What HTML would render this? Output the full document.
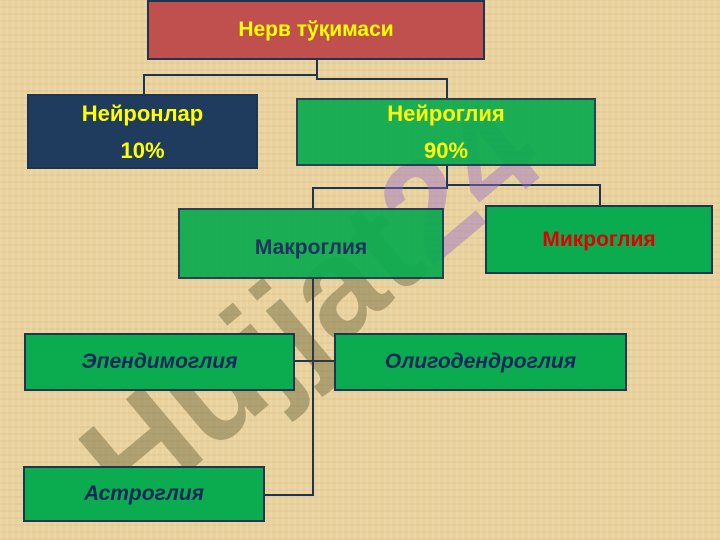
<!DOCTYPE html>
<html style="overflow:hidden;width:720px;height:540px"><head><meta charset="utf-8"><style>
body{margin:0;width:720px;height:540px;overflow:hidden;background:#e9d29e;font-family:"Liberation Sans",sans-serif;position:relative}
.bg{position:absolute;inset:0;background:repeating-linear-gradient(90deg,rgba(255,255,255,.08) 0 2px,transparent 2px 6px),repeating-linear-gradient(0deg,rgba(160,120,60,.07) 0 2px,transparent 2px 7px)}
.b{position:absolute;box-sizing:border-box;display:flex;align-items:center;justify-content:center;text-align:center;font-weight:bold;font-size:21px;border:2px solid #1d3550;line-height:40px}
.g{background:#0bab4f}
.i{font-style:italic;color:#10275a}
.l{position:absolute;background:#1d3550}
.wmw{position:absolute;left:0;top:0;width:720px;height:540px;overflow:hidden}
.wm{position:absolute;left:50px;top:420px;font:bold 140px "Liberation Sans",sans-serif;color:rgba(70,70,30,.35);transform:rotate(-40deg);transform-origin:left top;white-space:nowrap}
</style></head><body><div class="bg"></div>
<div class="l" style="left:316px;top:60px;width:2px;height:20px"></div>
<div class="l" style="left:143px;top:74px;width:175px;height:2px"></div>
<div class="l" style="left:143px;top:74px;width:2px;height:20px"></div>
<div class="l" style="left:316px;top:78px;width:132px;height:2px"></div>
<div class="l" style="left:446px;top:78px;width:2px;height:20px"></div>
<div class="l" style="left:446px;top:166px;width:2px;height:22px"></div>
<div class="l" style="left:312px;top:187px;width:136px;height:2px"></div>
<div class="l" style="left:446px;top:184px;width:155px;height:2px"></div>
<div class="l" style="left:599px;top:184px;width:2px;height:21px"></div>
<div class="l" style="left:312px;top:187px;width:2px;height:21px"></div>
<div class="l" style="left:312px;top:279px;width:2px;height:217px"></div>
<div class="l" style="left:265px;top:494px;width:49px;height:2px"></div>
<div class="l" style="left:295px;top:360px;width:40px;height:2px"></div>
<div class="wmw"><div class="wm">Hujjat<span style="color:rgba(150,110,200,.45)">24</span></div></div>
<div class="b" style="left:147px;top:0;width:338px;height:60px;background:#c0504d;color:#ffff00">Нерв тўқимаси</div>
<div class="b" style="left:27px;top:94px;width:231px;height:75px;background:#1f3c5e;color:#ffff00;font-size:22px;line-height:37px">Нейронлар<br>10%</div>
<div class="b g" style="left:296px;top:98px;width:300px;height:68px;color:#ffff00;font-size:22px;line-height:37px;opacity:.93">Нейроглия<br>90%</div>
<div class="b g" style="left:178px;top:208px;width:266px;height:71px;color:#10275a;padding-top:8px;opacity:.93">Макроглия</div>
<div class="b g" style="left:485px;top:205px;width:228px;height:69px;color:#e00000">Микроглия</div>
<div class="b g i" style="left:24px;top:333px;width:271px;height:58px">Эпендимоглия</div>
<div class="b g i" style="left:334px;top:333px;width:293px;height:58px">Олигодендроглия</div>
<div class="b g i" style="left:23px;top:466px;width:242px;height:56px">Астроглия</div>
</body></html>
